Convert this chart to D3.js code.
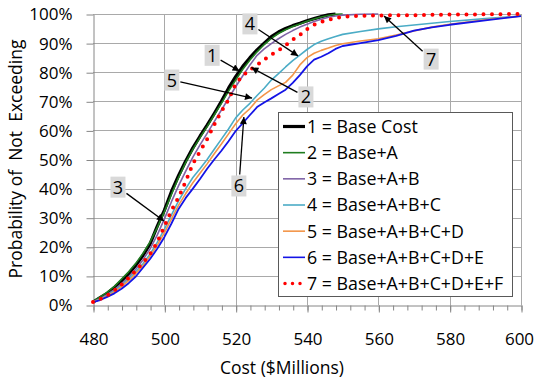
<!DOCTYPE html>
<html>
<head>
<meta charset="utf-8">
<script src="https://cdn.jsdelivr.net/npm/d3@7"></script>
<style>
  body { margin: 0; background: #fff; }
  svg { display: block; }
  text { font-family: "Open Sans", sans-serif; fill: #000; }
</style>
</head>
<body>
<svg id="chart" width="535" height="381"></svg>
<script>
// Cost points ($Millions) shared by every cumulative curve
const costs = [480, 482, 484, 486, 488, 490, 492, 494, 496, 498,
               500, 502, 504, 506, 508, 510, 512, 514, 516, 518,
               520, 522, 524, 526, 528, 530, 532, 534, 536, 538,
               540, 542, 544, 546, 548, 550, 555, 560, 565, 570,
               575, 580, 590, 600];

// Probability of not exceeding (%) for each scenario; null = beyond the last sample
const baseCost = [1.0, 2.5, 4.0, 6.0, 8.3, 10.8, 13.6, 17.0, 21.0, 27.0,
                  32.5, 39.0, 44.5, 49.5, 54.0, 58.0, 61.8, 65.8, 70.0, 74.5,
                  78.5, 82.0, 85.0, 87.7, 90.0, 92.2, 93.8, 95.0, 96.0, 96.8,
                  97.7, 98.4, 99.1, 99.7, 100, null, null, null, null, null,
                  null, null, null, null];
const baseA = [1.2, 2.8, 4.4, 6.4, 8.9, 11.4, 14.3, 17.7, 21.7, 26.6,
               32.0, 38.0, 43.8, 49.0, 53.5, 57.5, 61.3, 65.3, 69.3, 73.5,
               77.3, 81.0, 84.2, 87.0, 89.5, 91.6, 93.3, 94.6, 95.7, 96.6,
               97.5, 98.3, 99.0, 99.5, 99.9, 100, null, null, null, null,
               null, null, null, null];
const baseAB = [1.0, 2.2, 3.6, 5.3, 7.3, 9.6, 12.3, 15.5, 19.3, 24.0,
                29.5, 35.5, 41.0, 46.0, 50.8, 55.0, 59.0, 63.0, 67.0, 71.0,
                75.0, 78.8, 82.5, 85.8, 88.0, 89.8, 91.5, 93.0, 94.3, 95.5,
                96.5, 97.4, 98.2, 98.9, 99.3, 99.6, 99.9, 100, null, null,
                null, null, null, null];
const baseABC = [1.0, 2.0, 3.3, 4.8, 6.7, 8.9, 11.4, 14.2, 17.5, 21.5,
                 26.0, 31.0, 35.8, 40.0, 43.8, 46.8, 50.0, 53.5, 57.0, 60.5,
                 64.3, 67.0, 69.3, 72.0, 74.5, 77.3, 79.5, 81.8, 84.0, 85.9,
                 87.8, 89.5, 90.6, 91.5, 92.3, 93.0, 94.0, 94.9, 95.6, 96.2,
                 96.8, 97.4, 98.4, 99.3];
const baseABCD = [1.0, 1.9, 3.1, 4.5, 6.3, 8.4, 10.8, 13.5, 16.8, 20.5,
                  24.8, 29.6, 34.3, 38.3, 42.0, 45.3, 48.5, 52.0, 55.3, 58.8,
                  62.3, 65.3, 67.5, 70.4, 72.3, 74.0, 75.3, 76.5, 79.0, 82.5,
                  85.0, 86.5, 87.5, 88.3, 89.2, 89.8, 90.7, 91.5, 92.8, 94.2,
                  95.5, 96.5, 98.0, 99.3];
const baseABCDE = [1.0, 1.7, 2.8, 4.0, 5.6, 7.5, 9.8, 12.8, 15.8, 19.3,
                   23.3, 28.0, 33.0, 36.8, 40.0, 43.3, 46.8, 50.0, 53.0, 56.3,
                   59.8, 62.5, 65.3, 68.0, 69.6, 71.0, 72.5, 74.0, 76.3, 79.0,
                   82.0, 84.3, 85.3, 86.5, 88.0, 89.0, 90.0, 91.0, 92.5, 94.3,
                   95.4, 96.3, 97.8, 99.3];
const baseABCDEF = [1.0, 2.0, 3.3, 5.0, 7.0, 9.3, 11.8, 14.5, 17.5, 21.5,
                    27.0, 32.5, 37.0, 42.5, 48.5, 52.8, 57.0, 62.0, 66.5, 70.5,
                    76.0, 78.8, 80.8, 82.5, 84.3, 86.0, 87.5, 89.2, 91.2, 92.8,
                    94.8, 96.3, 97.3, 98.0, 98.6, 99.0, 99.4, 99.5, 99.6, 99.6,
                    99.7, 99.8, 99.9, 100];

const seriesNames = ["1 = Base Cost", "2 = Base+A", "3 = Base+A+B", "4 = Base+A+B+C",
                     "5 = Base+A+B+C+D", "6 = Base+A+B+C+D+E", "7 = Base+A+B+C+D+E+F"];
const seriesValues = [baseCost, baseA, baseAB, baseABC, baseABCD, baseABCDE, baseABCDEF];

// Axis tick values
const xTicks = [480, 500, 520, 540, 560, 580, 600];
const xMinorTicks = d3.range(480, 601, 4);
const yTicks = [0, 10, 20, 30, 40, 50, 60, 70, 80, 90, 100];

// Callout numbers: label position and the curve point the arrow points at (cost, %)
const calloutText = ["1", "2", "3", "4", "5", "6", "7"];
const calloutLabel = [[513.4, 85.8], [539.7, 71.5], [487.0, 40.5], [524.0, 96.6],
                      [502.1, 77.3], [520.9, 40.9], [574.8, 84.5]];
const calloutTarget = [[521.1, 80.4], [524.4, 81.6], [499.9, 28.9], [537.5, 85.6],
                       [524.6, 71.1], [522.3, 64.6], [561.6, 99.3]];

// Styling
const styles = [
  { color: "#000000", width: 3.2 },
  { color: "#1f7d1f", width: 1.6 },
  { color: "#7f63a6", width: 1.6 },
  { color: "#4bacc6", width: 1.6 },
  { color: "#f39548", width: 1.6 },
  { color: "#1414e6", width: 1.8 },
  { color: "#ff0000", width: 4, dash: "0,8.5" }
];

const svg = d3.select("#chart");
const plotLeft = 93, plotRight = 521, plotTop = 14, plotBottom = 305;

const x = d3.scaleLinear().domain([480, 600]).range([plotLeft, plotRight]);
const y = d3.scaleLinear().domain([0, 100]).range([plotBottom, plotTop]);

// Gridlines
const grid = svg.append("g").attr("stroke", "#a9a9a9").attr("stroke-width", 1);
grid.selectAll("line.h").data(yTicks.slice(1)).join("line")
  .attr("class", "h")
  .attr("x1", plotLeft).attr("x2", plotRight)
  .attr("y1", d => Math.round(y(d)) + 0.5).attr("y2", d => Math.round(y(d)) + 0.5);
grid.selectAll("line.v").data(xTicks.slice(1)).join("line")
  .attr("class", "v")
  .attr("y1", plotTop).attr("y2", plotBottom)
  .attr("x1", d => Math.round(x(d)) + 0.5).attr("x2", d => Math.round(x(d)) + 0.5);

// Axes
const axisColor = "#868686";
const xMinor = svg.append("g").attr("transform", `translate(0.5,${plotBottom + 0.5})`)
  .call(d3.axisBottom(x).tickValues(xMinorTicks).tickSize(5).tickFormat(""));
xMinor.select(".domain").remove();
xMinor.selectAll("line").attr("stroke", axisColor);

const xAxis = svg.append("g").attr("transform", `translate(0.5,${plotBottom + 0.5})`)
  .call(d3.axisBottom(x).tickValues(xTicks).tickSize(7).tickPadding(20).tickSizeOuter(0));
xAxis.select(".domain").attr("stroke", axisColor);
xAxis.selectAll("line").attr("stroke", axisColor);
xAxis.selectAll("text").attr("font-size", 17).attr("font-family", "Open Sans")
  .attr("dx", d => d === 600 ? -2.5 : 0);

const yAxis = svg.append("g").attr("transform", `translate(${plotLeft + 0.5},0.5)`)
  .call(d3.axisLeft(y).tickValues(yTicks).tickSize(7).tickPadding(14).tickSizeOuter(0)
    .tickFormat(d => d + "%"));
yAxis.select(".domain").attr("stroke", axisColor);
yAxis.selectAll("line").attr("stroke", axisColor);
yAxis.selectAll("text").attr("font-size", 17).attr("font-family", "Open Sans");

// Axis titles
svg.append("text")
  .attr("x", 282).attr("y", 373.5)
  .attr("text-anchor", "middle").attr("font-size", 17.5)
  .text("Cost ($Millions)");
svg.append("text")
  .attr("transform", "translate(21.5,159) rotate(-90)")
  .attr("text-anchor", "middle").attr("font-size", 17.5)
  .style("white-space", "pre")
  .text("Probability of  Not  Exceeding");

// Cumulative curves
const line = d3.line()
  .defined(d => d[1] != null)
  .x(d => x(d[0]))
  .y(d => y(d[1]));

svg.append("g").selectAll("path").data(seriesValues).join("path")
  .attr("d", vals => line(costs.map((c, i) => [c, vals[i]])))
  .attr("fill", "none")
  .attr("stroke", (d, i) => styles[i].color)
  .attr("stroke-width", (d, i) => styles[i].width)
  .attr("stroke-dasharray", (d, i) => styles[i].dash || null)
  .attr("stroke-linecap", (d, i) => styles[i].dash ? "round" : "butt")
  .attr("stroke-linejoin", "round");

// Callouts
svg.append("defs").append("marker")
  .attr("id", "arrow").attr("viewBox", "0 0 10 10")
  .attr("refX", 10).attr("refY", 5)
  .attr("markerUnits", "userSpaceOnUse")
  .attr("markerWidth", 9).attr("markerHeight", 7)
  .attr("orient", "auto")
  .append("path").attr("d", "M0,0 L10,5 L0,10 z").attr("fill", "#000");

const boxW = 15, boxH = 21;
const callouts = svg.append("g");
calloutText.forEach((t, i) => {
  const cx = x(calloutLabel[i][0]), cy = y(calloutLabel[i][1]);
  const tx = x(calloutTarget[i][0]), ty = y(calloutTarget[i][1]);
  const dx = tx - cx, dy = ty - cy;
  const s = Math.min((boxW / 2 + 1) / Math.abs(dx || 1e-6), (boxH / 2 + 1) / Math.abs(dy || 1e-6));
  callouts.append("line")
    .attr("x1", cx + dx * s).attr("y1", cy + dy * s)
    .attr("x2", tx).attr("y2", ty)
    .attr("stroke", "#000").attr("stroke-width", 1.3)
    .attr("marker-end", "url(#arrow)");
  callouts.append("rect")
    .attr("x", cx - boxW / 2).attr("y", cy - boxH / 2)
    .attr("width", boxW).attr("height", boxH)
    .attr("fill", "#d9d9d9");
  callouts.append("text")
    .attr("x", cx).attr("y", cy).attr("dy", "0.36em")
    .attr("text-anchor", "middle").attr("font-size", 18)
    .text(t);
});

// Legend
const legend = svg.append("g");
legend.append("rect")
  .attr("x", 278.5).attr("y", 112.5).attr("width", 234).attr("height", 184)
  .attr("fill", "#fff").attr("stroke", "#595959").attr("stroke-width", 1);
const rowY = d3.scaleLinear().domain([0, 6]).range([126.5, 283.5]);
const rows = legend.selectAll("g.row").data(seriesNames).join("g")
  .attr("class", "row")
  .attr("transform", (d, i) => `translate(0,${rowY(i)})`);
rows.append("line")
  .attr("x1", (d, i) => styles[i].dash ? 285 : 283).attr("x2", 305)
  .attr("stroke", (d, i) => styles[i].color)
  .attr("stroke-width", (d, i) => i === 0 ? 3.2 : (styles[i].dash ? 3.5 : 1.6))
  .attr("stroke-dasharray", (d, i) => styles[i].dash ? "0,7.5" : null)
  .attr("stroke-linecap", (d, i) => styles[i].dash ? "round" : "butt");
rows.append("text")
  .attr("x", 307).attr("dy", "0.36em")
  .attr("font-size", 17.8)
  .text(d => d);
</script>
</body>
</html>
